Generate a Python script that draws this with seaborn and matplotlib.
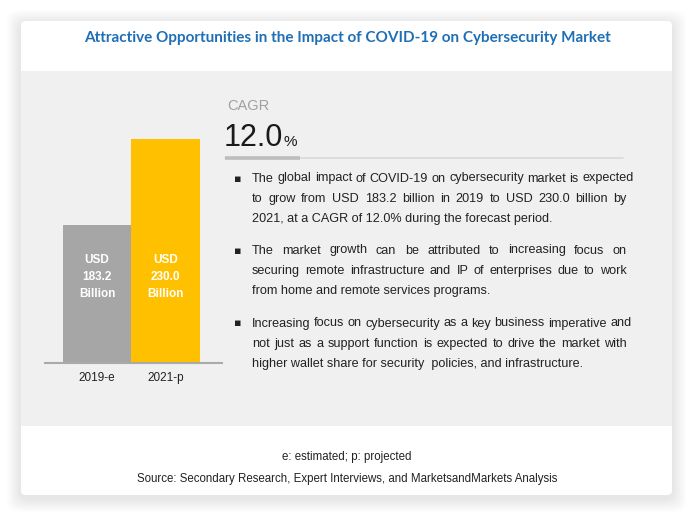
import matplotlib
matplotlib.use("Agg")
import matplotlib.pyplot as plt
from matplotlib.patches import FancyBboxPatch, Rectangle
from matplotlib.lines import Line2D
import seaborn as sns
import pandas as pd

# ---- data ----
years = ["2019-e", "2021-p"]
values = [183.2, 230.0]
bar_labels = ["USD\n183.2\nBillion", "USD\n230.0\nBillion"]
bar_colors = ["#a6a6a6", "#ffc000"]
title = "Attractive Opportunities in the Impact of COVID-19 on Cybersecurity Market"
cagr_label = "CAGR"
cagr_value = "12.0"
bullets = [
    ["The global impact of COVID-19 on cybersecurity market is expected",
     "to grow from USD 183.2 billion in 2019 to USD 230.0 billion by",
     "2021, at a CAGR of 12.0% during the forecast period."],
    ["The market growth can be attributed to increasing focus on",
     "securing remote infrastructure and IP of enterprises due to work",
     "from home and remote services programs."],
    ["Increasing focus on cybersecurity as a key business imperative and",
     "not just as a support function is expected to drive the market with",
     "higher wallet share for security  policies, and infrastructure."],
]
footnote = "e: estimated; p: projected"
source = "Source: Secondary Research, Expert Interviews, and MarketsandMarkets Analysis"

sns.set_style("white")
plt.rcParams["font.family"] = ["Liberation Sans", "DejaVu Sans"]

W, H = 694, 518
fig = plt.figure(figsize=(W / 100, H / 100), dpi=100)
fig.patch.set_facecolor("white")


def fx(x):
    return x / W


def fy(y):
    return 1 - y / H


# ---- card with soft shadow ----
cx0, cy0, cx1, cy1 = 21, 21, 672, 495
for i in range(12):
    p = 14 - i * 1.1
    fig.patches.append(FancyBboxPatch((fx(cx0 - p), fy(cy1 + p + 3)), fx(cx1 - cx0 + 2 * p),
                                      (cy1 - cy0 + 2 * p) / H,
                                      boxstyle="round,pad=0,rounding_size=0.02",
                                      transform=fig.transFigure, facecolor="black",
                                      edgecolor="none", alpha=0.009, zorder=0))
fig.patches.append(FancyBboxPatch((fx(cx0), fy(cy1)), fx(cx1 - cx0), (cy1 - cy0) / H,
                                  boxstyle="round,pad=0,rounding_size=0.008",
                                  transform=fig.transFigure, facecolor="white",
                                  edgecolor="none", zorder=1))
fig.patches.append(Rectangle((fx(cx0), fy(426)), fx(cx1 - cx0), (426 - 71) / H,
                             transform=fig.transFigure, facecolor="#f0f0f0",
                             edgecolor="none", zorder=2))

# ---- title ----
fig.text(fx(347), fy(38), title, ha="center", va="center", fontsize=11,
         fontweight="bold", color="#1f6fb5", family=["Lato", "DejaVu Sans"], zorder=5)

# ---- bar chart ----
base = 108.1
ax_l, ax_r, ax_b, ax_t = 45, 222, 363, 100
ax = fig.add_axes([fx(ax_l), fy(ax_b), fx(ax_r - ax_l), (ax_b - ax_t) / H])
ax.set_facecolor("none")
ax.set_zorder(4)
df = pd.DataFrame({"year": years, "value": values})
sns.barplot(data=df, x="year", y="value", hue="year", palette=bar_colors,
            width=1.0, ax=ax, legend=False, saturation=1, edgecolor="none", linewidth=0)
px_per_unit = (363 - 139) / (values[1] - base)
ax.set_ylim(base, base + (ax_b - ax_t) / px_per_unit)
ax.set_xlim(-0.76, 1.825)
for s in ["top", "left", "right"]:
    ax.spines[s].set_visible(False)
ax.spines["bottom"].set_color("#aaaaaa")
ax.spines["bottom"].set_linewidth(1.5)
ax.spines["bottom"].set_zorder(5)
ax.set_yticks([])
ax.set_xlabel("")
ax.set_ylabel("")
ax.tick_params(axis="x", length=0, pad=6.5, labelsize=8.5, labelcolor="#222222")
for i, lab in enumerate(bar_labels):
    ax.text(i, (363 - 277) / (ax_b - ax_t), lab, transform=ax.get_xaxis_transform(),
            ha="center", va="center", color="white", fontsize=8.5, fontweight="bold",
            linespacing=1.6)

# ---- CAGR block ----
fig.text(fx(227), fy(110), cagr_label, fontsize=10.5, color="#a0a0a0", va="baseline")
renderer = fig.canvas.get_renderer()
t = fig.text(fx(224), fy(146), cagr_value, fontsize=22, color="#1a1a1a", va="baseline")
bb = t.get_window_extent(renderer)
fig.text(fx(bb.x1 + 0.5), fy(146), "%", fontsize=11, color="#1a1a1a", va="baseline")
fig.lines.append(Line2D([fx(225), fx(623)], [fy(157.5), fy(157.5)], transform=fig.transFigure,
                       color="#d9d9d9", lw=1.2, zorder=5))
fig.lines.append(Line2D([fx(225), fx(300)], [fy(157.5), fy(157.5)], transform=fig.transFigure,
                       color="#bdbdbd", lw=2.6, zorder=6, solid_capstyle="butt"))

# ---- justified bullets ----
body_fs = 9.1
body_col = "#222222"


def text_w(s):
    tt = fig.text(0, 0, s, fontsize=body_fs)
    w = tt.get_window_extent(renderer).width
    tt.remove()
    return w


x_start, x_end = 252, 627
para_y = [178, 250, 323]
for p_i, lines in enumerate(bullets):
    y0 = para_y[p_i]
    fig.text(fx(238), fy(y0 + 3.5), "\u25aa", fontsize=8, color=body_col,
             va="baseline", ha="center", family=["DejaVu Sans"])
    for l_i, line in enumerate(lines):
        y = y0 + l_i * 20.3 + 3.5
        last = l_i == len(lines) - 1
        if last:
            fig.text(fx(x_start), fy(y), line, fontsize=body_fs, color=body_col,
                     va="baseline")
            continue
        words = line.split()
        natural = text_w(" ".join(words))
        extra = max(0.0, (x_end - x_start - natural) / (len(words) - 1))
        for k, w in enumerate(words):
            if k == 0:
                off = 0.0
            else:
                prefix = " ".join(words[:k]) + " " + w
                off = text_w(prefix) - text_w(w)
            fig.text(fx(x_start + off + k * extra), fy(y), w, fontsize=body_fs,
                     color=body_col, va="baseline")

# ---- footer ----
fig.text(fx(347), fy(457), footnote, ha="center", va="center", fontsize=8.3, color="#222222")
fig.text(fx(347), fy(479), source, ha="center", va="center", fontsize=8.3, color="#222222")

fig.savefig("out.png", dpi=100, facecolor="white")
